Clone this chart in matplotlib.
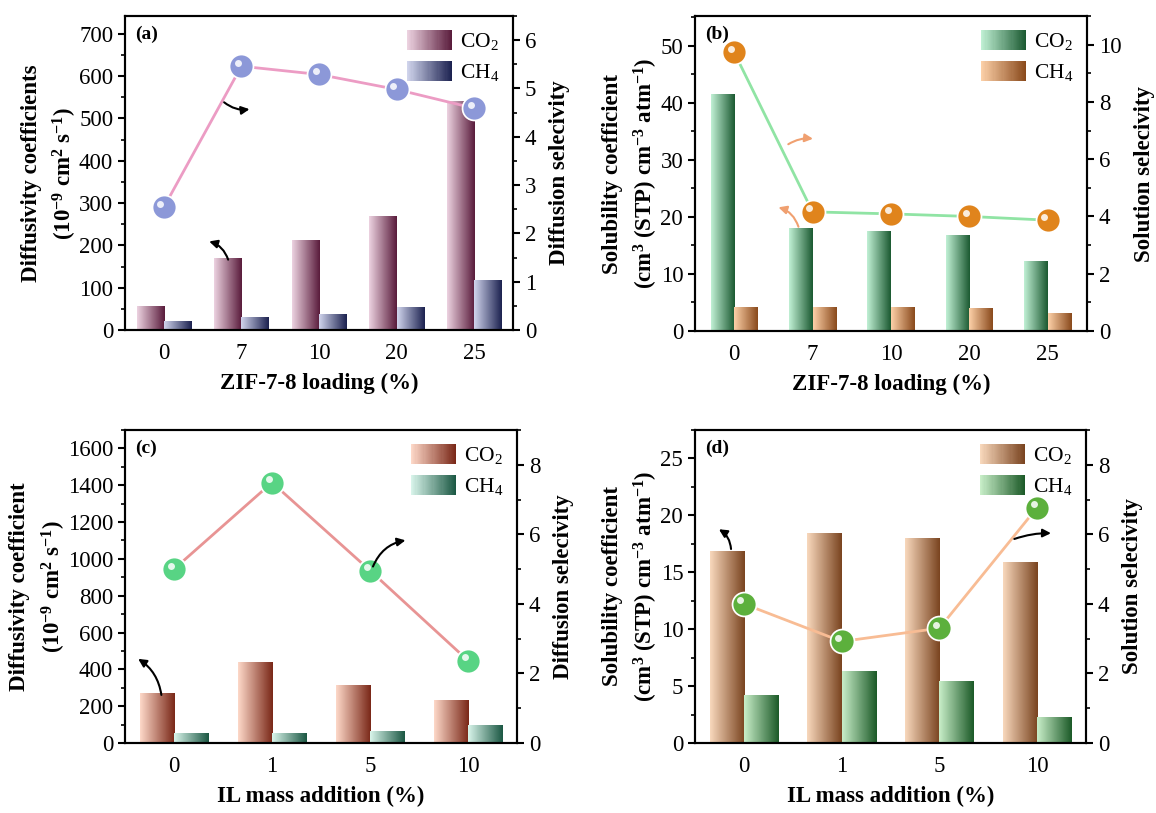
import numpy as np
import matplotlib
matplotlib.use("Agg")
import matplotlib.pyplot as plt
from matplotlib.colors import LinearSegmentedColormap
from matplotlib.legend_handler import HandlerBase
from matplotlib.patches import Rectangle, Patch
from matplotlib.ticker import MultipleLocator
from matplotlib.transforms import offset_copy

plt.rcParams["font.family"] = ["Liberation Serif", "DejaVu Serif"]
plt.rcParams["mathtext.fontset"] = "custom"
plt.rcParams["mathtext.rm"] = "Liberation Serif"
plt.rcParams["mathtext.bf"] = "Liberation Serif:bold"
plt.rcParams["mathtext.it"] = "Liberation Serif:italic"

# ---- data ----
zif_loading = ["0", "7", "10", "20", "25"]
il_addition = ["0", "1", "5", "10"]

# (a) diffusivity, ZIF-7-8
diff_co2_a = [55, 168, 211, 269, 541]
diff_ch4_a = [21, 29, 37, 53, 118]
diff_sel_a = [2.54, 5.46, 5.29, 4.98, 4.59]

# (b) solubility, ZIF-7-8
sol_co2_b = [41.5, 17.9, 17.5, 16.8, 12.1]
sol_ch4_b = [4.1, 4.2, 4.1, 4.0, 3.0]
sol_sel_b = [9.73, 4.16, 4.09, 4.0, 3.87]

# (c) diffusivity, IL
diff_co2_c = [270, 436, 310, 233]
diff_ch4_c = [49, 53, 60, 93]
diff_sel_c = [5.0, 7.49, 4.96, 2.37]

# (d) solubility, IL
sol_co2_d = [16.8, 18.4, 17.95, 15.9]
sol_ch4_d = [4.15, 6.25, 5.4, 2.28]
sol_sel_d = [4.0, 2.92, 3.3, 6.77]

FS = 16.5


def cmap2(c0, c1):
    return LinearSegmentedColormap.from_list("g", [c0, c1])


class GradHandler(HandlerBase):
    def __init__(self, cmap):
        super().__init__()
        self.cmap = cmap

    def create_artists(self, legend, orig_handle, xdescent, ydescent,
                       width, height, fontsize, trans):
        n = 40
        arts = []
        for i in range(n):
            r = Rectangle((-xdescent + i * width / n, -ydescent), width / n * 1.1, height,
                          facecolor=self.cmap(i / (n - 1)), edgecolor="none", transform=trans)
            arts.append(r)
        return arts


def grad_bars(ax, x, h, width, cmap, z=2):
    rects = ax.bar(x, h, width, color="none", edgecolor="none", zorder=z)
    grad = np.linspace(0, 1, 64).reshape(1, -1)
    for r in rects:
        x0 = r.get_x()
        ax.imshow(grad, extent=[x0, x0 + r.get_width(), 0, r.get_height()],
                  cmap=cmap, aspect="auto", zorder=z, interpolation="bilinear")


def sphere_line(ax, x, y, line_c, ball_c):
    ax.plot(x, y, "-", color=line_c, lw=2, zorder=5)
    ax.plot(x, y, "o", ms=16, color=ball_c, mec="white", mew=2.5, zorder=6)
    ax.plot(x, y, "o", ms=16, color=ball_c, mec="none", zorder=7)
    tr = offset_copy(ax.transData, fig=ax.figure, x=-2.5, y=2.5, units="points")
    ax.plot(x, y, "o", ms=5, color="white", mec="none", alpha=0.85, zorder=8, transform=tr)


def panel(rect, cats, co2, ch4, sel, width, cm_co2, cm_ch4, line_c, ball_c,
          lylim, lmaj, lmin, rylim, rmaj, rmin, ylabel, y2label, xlabel, tag, arrows):
    ax = fig.add_axes(rect)
    x = np.arange(len(cats))
    grad_bars(ax, x - width / 2, co2, width, cm_co2)
    grad_bars(ax, x + width / 2, ch4, width, cm_ch4)
    ax.set_xlim(-0.5, len(cats) - 0.5)
    ax.set_ylim(*lylim)
    ax.set_xticks(x)
    ax.set_xticklabels(cats)
    ax.yaxis.set_major_locator(MultipleLocator(lmaj))
    ax.yaxis.set_minor_locator(MultipleLocator(lmin))
    ax.tick_params(axis="x", direction="in", length=5, width=1.5, labelsize=FS, pad=9)
    ax.tick_params(axis="y", which="major", direction="out", length=5, width=1.5, labelsize=FS)
    ax.tick_params(axis="y", which="minor", direction="out", length=3, width=1.2)
    ax.set_ylabel(ylabel, fontsize=FS, fontweight="bold", linespacing=1.45, labelpad=0)
    ax.set_xlabel(xlabel, fontsize=FS, fontweight="bold", labelpad=7)
    for s in ax.spines.values():
        s.set_linewidth(1.5)

    ax2 = ax.twinx()
    sphere_line(ax2, x, sel, line_c, ball_c)
    ax2.set_ylim(*rylim)
    ax2.yaxis.set_major_locator(MultipleLocator(rmaj))
    ax2.yaxis.set_minor_locator(MultipleLocator(rmin))
    ax2.tick_params(axis="y", which="major", direction="out", length=5, width=1.5, labelsize=FS)
    ax2.tick_params(axis="y", which="minor", direction="out", length=3, width=1.2)
    ax2.set_ylabel(y2label, fontsize=FS, fontweight="bold", labelpad=9)
    for s in ax2.spines.values():
        s.set_linewidth(1.5)

    ax.text(0.025, 0.97, tag, transform=ax.transAxes, fontsize=14, fontweight="bold",
            va="top", ha="left")

    h1, h2 = Patch(), Patch()
    ax2.legend([h1, h2], ["CO$_2$", "CH$_4$"], loc="upper right",
               handler_map={h1: GradHandler(cm_co2), h2: GradHandler(cm_ch4)},
               frameon=False, fontsize=15.5, handlelength=2.1, handleheight=1.05,
               handletextpad=0.35, labelspacing=0.4, borderaxespad=0.25)

    for which, (x0, y0), (x1, y1), rad, col in arrows:
        a = ax if which == "l" else ax2
        a.annotate("", xy=(x1, y1), xytext=(x0, y0),
                   arrowprops=dict(arrowstyle="-|>", color=col, lw=1.5,
                                   connectionstyle=f"arc3,rad={rad}", mutation_scale=12),
                   zorder=9)
    return ax, ax2


W, H = 1156, 813
fig = plt.figure(figsize=(W / 100, H / 100), dpi=100)


def r(l, t, rt, b):
    return [l / W, 1 - b / H, (rt - l) / W, (b - t) / H]


ylab_diff_a = "Diffusivity coefficients\n(10$^{\\mathbf{-9}}$ cm$^{\\mathbf{2}}$ s$^{\\mathbf{-1}}$)"
ylab_diff_c = "Diffusivity coefficient\n(10$^{\\mathbf{-9}}$ cm$^{\\mathbf{2}}$ s$^{\\mathbf{-1}}$)"
ylab_sol = "Solubility coefficient\n(cm$^{\\mathbf{3}}$ (STP) cm$^{\\mathbf{-3}}$ atm$^{\\mathbf{-1}}$)"

panel(r(125, 16, 513, 330), zif_loading, diff_co2_a, diff_ch4_a, diff_sel_a, 0.35,
      cmap2("#ecd2e0", "#5a1c3c"), cmap2("#d0d4ec", "#1c2250"), "#ec9cc4", "#8c98d8",
      (0, 742), 100, 50, (0, 6.5), 1, 0.5,
      ylab_diff_a, "Diffusion selecivity", "ZIF-7-8 loading (%)", "(a)",
      [("r", (0.75, 4.75), (1.14, 4.58), 0.25, "black"),
       ("l", (0.84, 160), (0.55, 211), 0.3, "black")])

panel(r(695, 16, 1087, 331), zif_loading, sol_co2_b, sol_ch4_b, sol_sel_b, 0.30,
      cmap2("#c0f0d4", "#1c5a32"), cmap2("#fcd0a8", "#8a4a1c"), "#90e4a4", "#e0841c",
      (0, 55.2), 10, 5, (0, 11.0), 2, 1,
      ylab_sol, "Solution selecivity", "ZIF-7-8 loading (%)", "(b)",
      [("r", (0.66, 6.47), (1.04, 6.7), -0.2, "#f0a070"),
       ("l", (0.83, 17.8), (0.53, 21.8), 0.3, "#f0a070")])

panel(r(125, 430, 517, 743), il_addition, diff_co2_c, diff_ch4_c, diff_sel_c, 0.35,
      cmap2("#fdd8c8", "#7a2818"), cmap2("#d8f4ea", "#1c5844"), "#e89494", "#58d484",
      (0, 1700), 200, 100, (0, 9.0), 2, 1,
      ylab_diff_c, "Diffusion selecivity", "IL mass addition (%)", "(c)",
      [("l", (-0.125, 246), (-0.39, 465), 0.25, "black"),
       ("r", (2.02, 5.0), (2.39, 5.84), -0.3, "black")])

panel(r(695, 430, 1086, 743), il_addition, sol_co2_d, sol_ch4_d, sol_sel_d, 0.35,
      cmap2("#f8d8bc", "#7a4420"), cmap2("#c8eec8", "#1c5a28"), "#f8bc94", "#5cb03c",
      (0, 27.5), 5, 2.5, (0, 9.0), 2, 1,
      ylab_sol, "Solution selecivity", "IL mass addition (%)", "(d)",
      [("l", (-0.13, 16.8), (-0.28, 18.9), 0.3, "black"),
       ("r", (2.74, 5.84), (3.17, 6.03), -0.1, "black")])

fig.savefig("out.png", dpi=100)
